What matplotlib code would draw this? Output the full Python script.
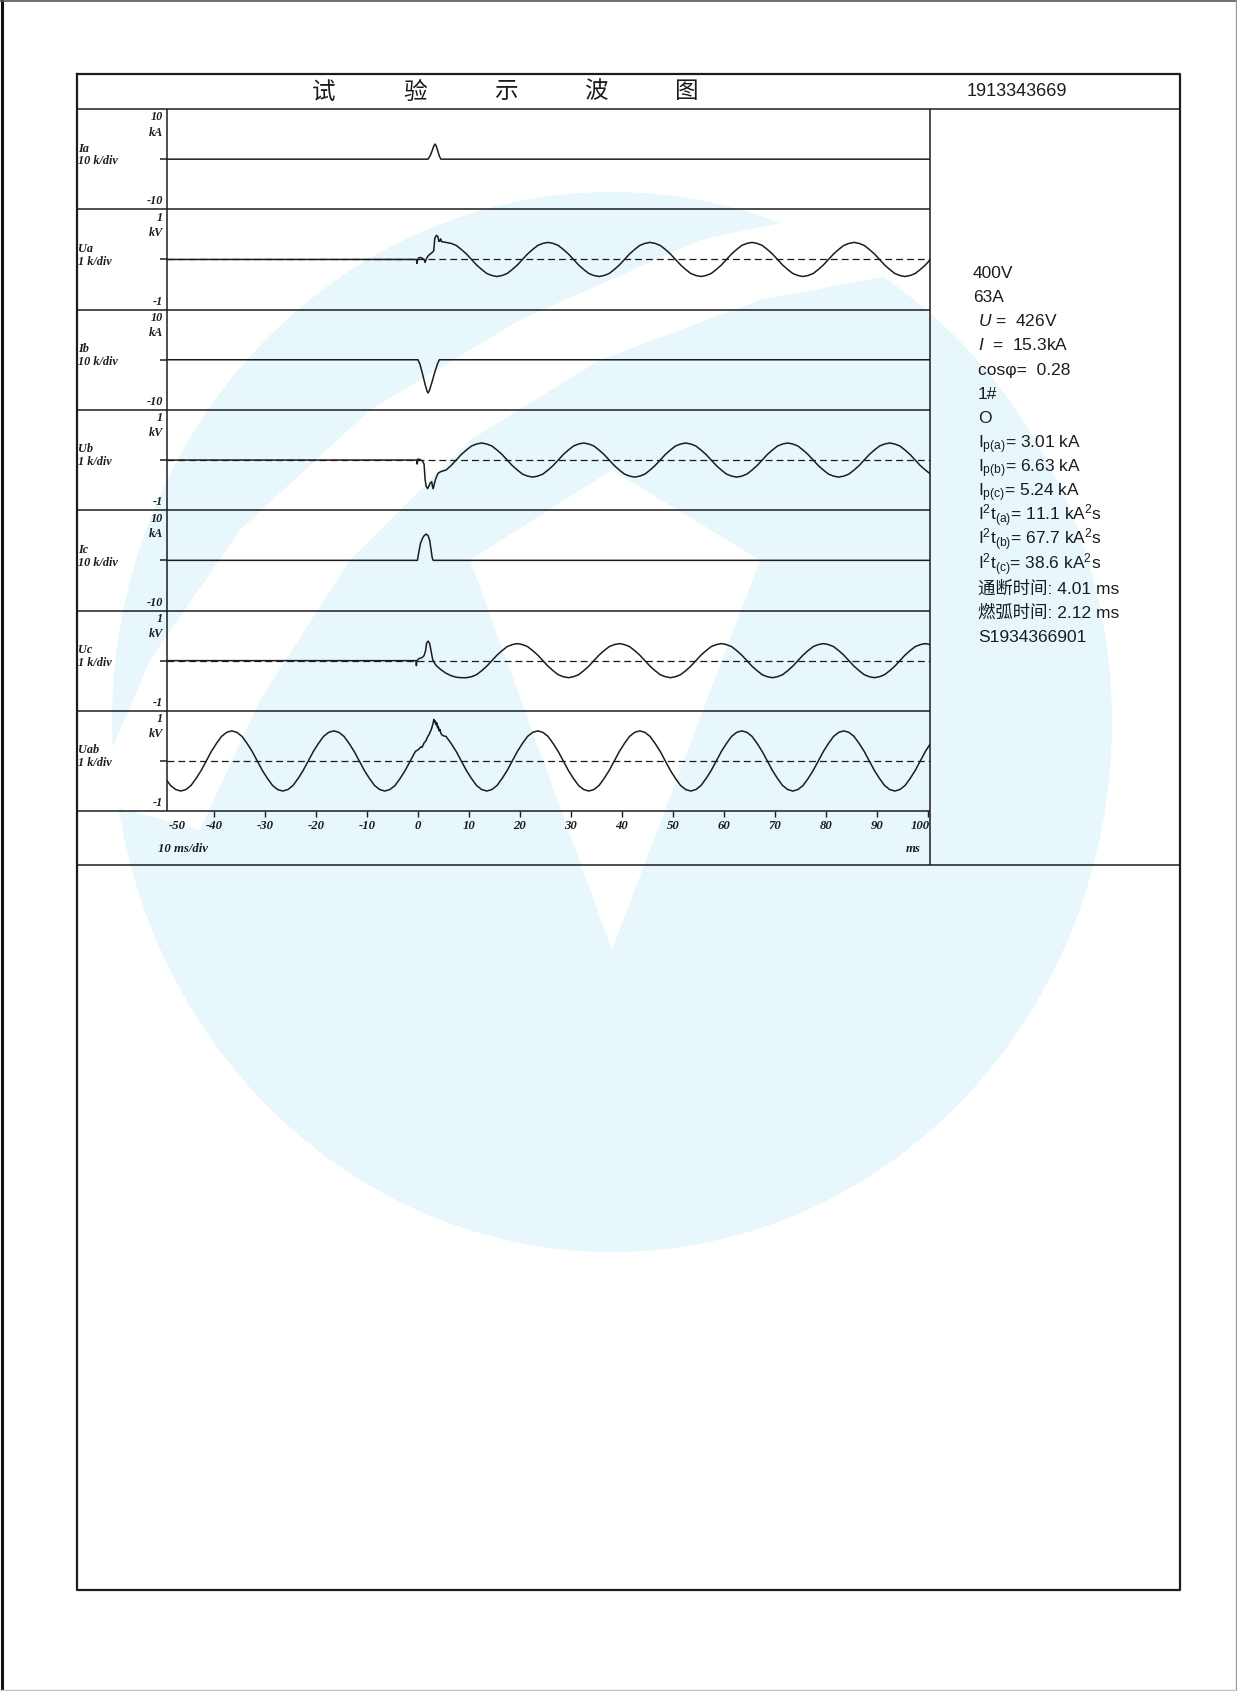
import matplotlib
matplotlib.use("Agg")
import matplotlib.pyplot as plt
from matplotlib.patches import Ellipse, Polygon
import numpy as np

plt.rcParams['mathtext.fontset'] = 'custom'
plt.rcParams['mathtext.rm'] = 'Liberation Sans'
plt.rcParams['mathtext.it'] = 'Liberation Sans:italic'
plt.rcParams['mathtext.bf'] = 'Liberation Sans:bold'

W, H = 1237, 1691
INK = '#1c1c1c'

# ---- recorded traces (time in ms) ----
# recorder samples, 1 ms apart, for the steady parts of the voltage traces
T_SAMPLE = 1.0

# Uab, kV
uab_pre_start = -49.5
uab_pre = [-.35, -.49, -.57, -.60, -.57, -.49, -.35, -.19, 0, .19, .35, .49, .57, .60, .57, .49, .35, .19, 0, -.19,
           -.35, -.49, -.57, -.60, -.57, -.49, -.35, -.19, 0, .19, .35, .49, .57, .60, .57, .49, .35, .19, 0, -.19,
           -.35, -.49, -.57, -.60, -.57, -.49, -.35, -.19, 0, .19]
uab_arc_t = [0.0, 0.3, 0.6, 0.8, 1.0, 1.2, 1.4, 1.6, 1.8, 2.0, 2.2, 2.4, 2.6, 2.8, 3.0, 3.1, 3.25,
             3.4, 3.55, 3.7, 3.85, 4.0, 4.15, 4.3, 4.5, 4.7, 5.0]
uab_arc_v = [0.22, 0.25, 0.28, 0.27, 0.31, 0.36, 0.38, 0.41, 0.46, 0.50, 0.53, 0.58, 0.62, 0.69, 0.76, 0.83, 0.77,
             0.80, 0.72, 0.76, 0.66, 0.69, 0.60, 0.63, 0.55, 0.52, 0.50]
uab_post_start = 5.5
uab_post = [.49, .35, .19, 0, -.19, -.35, -.49, -.57, -.60, -.57, -.49, -.35, -.19, 0, .19, .35, .49, .57, .60, .57,
            .49, .35, .19, 0, -.19, -.35, -.49, -.57, -.60, -.57, -.49, -.35, -.19, 0, .19, .35, .49, .57, .60, .57,
            .49, .35, .19, 0, -.19, -.35, -.49, -.57, -.60, -.57, -.49, -.35, -.19, 0, .19, .35, .49, .57, .60, .57,
            .49, .35, .19, 0, -.19, -.35, -.49, -.57, -.60, -.57, -.49, -.35, -.19, 0, .19, .35, .49, .57, .60, .57,
            .49, .35, .19, 0, -.19, -.35, -.49, -.57, -.60, -.57, -.49, -.35, -.19, 0, .19, .35, .49, .57]

# Ua, kV (zero while the contacts are closed)
ua_arc_t = [-50, -0.3, -0.2, -0.1, 0.1, 0.5, 0.9, 1.2, 1.4, 1.6, 1.9, 2.3, 2.8, 3.1, 3.3, 3.6, 3.9, 4.1,
            4.3, 4.45, 4.6, 4.9]
ua_arc_v = [0, 0, -0.08, -0.02, 0.03, 0.04, 0.02, 0.0, -0.06, 0.0, 0.06, 0.10, 0.14, 0.17, 0.42, 0.48, 0.46, 0.36,
            0.37, 0.41, 0.36, 0.35]
ua_post_start = 5.5
ua_post = [.34, .32, .28, .20, .11, 0, -.11, -.20, -.28, -.32, -.34, -.32, -.28, -.20, -.11, 0, .11, .20, .28, .32,
           .34, .32, .28, .20, .11, 0, -.11, -.20, -.28, -.32, -.34, -.32, -.28, -.20, -.11, 0, .11, .20, .28, .32,
           .34, .32, .28, .20, .11, 0, -.11, -.20, -.28, -.32, -.34, -.32, -.28, -.20, -.11, 0, .11, .20, .28, .32,
           .34, .32, .28, .20, .11, 0, -.11, -.20, -.28, -.32, -.34, -.32, -.28, -.20, -.11, 0, .11, .20, .28, .32,
           .34, .32, .28, .20, .11, 0, -.11, -.20, -.28, -.32, -.34, -.32, -.28, -.20, -.11, 0, .11, .20]

# Ub, kV
ub_arc_t = [-50, -0.25, -0.15, 0.0, 0.4, 0.9, 1.2, 1.4, 1.6, 1.9, 2.1, 2.4, 2.7, 2.85, 3.0, 3.2, 3.5, 3.9, 4.3, 4.8]
ub_arc_v = [0, 0, -0.08, 0.02, 0.01, -0.02, -0.08, -0.38, -0.52, -0.57, -0.53, -0.46, -0.43, -0.53, -0.57, -0.48,
            -0.37, -0.27, -0.24, -0.22]
ub_post_start = 5.5
ub_post = [-.20, -.11, 0, .11, .20, .28, .32, .34, .32, .28, .20, .11, 0, -.11, -.20, -.28, -.32, -.34, -.32, -.28,
           -.20, -.11, 0, .11, .20, .28, .32, .34, .32, .28, .20, .11, 0, -.11, -.20, -.28, -.32, -.34, -.32, -.28,
           -.20, -.11, 0, .11, .20, .28, .32, .34, .32, .28, .20, .11, 0, -.11, -.20, -.28, -.32, -.34, -.32, -.28,
           -.20, -.11, 0, .11, .20, .28, .32, .34, .32, .28, .20, .11, 0, -.11, -.20, -.28, -.32, -.34, -.32, -.28,
           -.20, -.11, 0, .11, .20, .28, .32, .34, .32, .28, .20, .11, 0, -.11, -.20, -.28, -.32, -.34]

# Uc, kV
uc_arc_t = [-50, -0.4, -0.3, -0.2, 0.2, 0.8, 1.2, 1.5, 1.7, 2.0, 2.3, 2.6, 2.9, 3.2, 3.6, 4.5, 5.5, 6.5, 7.5, 8.5]
uc_arc_v = [0, 0, -0.10, 0.0, 0.04, 0.06, 0.10, 0.20, 0.35, 0.39, 0.34, 0.18, 0.02, -0.04, -0.10, -0.18, -0.25,
            -0.30, -0.33, -0.34]
uc_post_start = 9.5
uc_post = [-.34, -.32, -.28, -.20, -.11, 0, .11, .20, .28, .32, .34, .32, .28, .20, .11, 0, -.11, -.20, -.28, -.32,
           -.34, -.32, -.28, -.20, -.11, 0, .11, .20, .28, .32, .34, .32, .28, .20, .11, 0, -.11, -.20, -.28, -.32,
           -.34, -.32, -.28, -.20, -.11, 0, .11, .20, .28, .32, .34, .32, .28, .20, .11, 0, -.11, -.20, -.28, -.32,
           -.34, -.32, -.28, -.20, -.11, 0, .11, .20, .28, .32, .34, .32, .28, .20, .11, 0, -.11, -.20, -.28, -.32,
           -.34, -.32, -.28, -.20, -.11, 0, .11, .20, .28, .32, .34, .32, .28, .20]

# phase currents, kA
ia_t = [-50, 2.0, 2.4, 2.8, 3.1, 3.35, 3.6, 3.9, 4.2, 4.5, 102.5]
ia_v = [0, 0, 0.7, 1.7, 2.6, 3.01, 2.6, 1.6, 0.6, 0, 0]
ib_t = [-50, 0.0, 0.4, 0.9, 1.4, 1.8, 2.0, 2.3, 2.8, 3.3, 3.8, 4.2, 102.5]
ib_v = [0, 0, -0.9, -2.8, -4.9, -6.3, -6.63, -6.0, -4.3, -2.5, -0.9, 0, 0]
ic_t = [-50, -0.1, 0.2, 0.5, 0.9, 1.2, 1.6, 2.0, 2.3, 2.55, 2.8, 3.0, 102.5]
ic_v = [0, 0, 1.8, 3.4, 4.4, 4.9, 5.24, 4.9, 4.0, 2.3, 0.5, 0, 0]

panel_names = ["Ia", "Ua", "Ib", "Ub", "Ic", "Uc", "Uab"]
panel_div = ["10 k/div", "1 k/div", "10 k/div", "1 k/div", "10 k/div", "1 k/div", "1 k/div"]
panel_top = ["10", "1", "10", "1", "10", "1", "1"]
panel_unit = ["kA", "kV", "kA", "kV", "kA", "kV", "kV"]
panel_bot = ["-10", "-1", "-10", "-1", "-10", "-1", "-1"]
panel_span = [10, 1, 10, 1, 10, 1, 1]
panel_dashed = [False, True, False, True, False, True, True]

time_ticks = [-50, -40, -30, -20, -10, 0, 10, 20, 30, 40, 50, 60, 70, 80, 90, 100]

title_chars = ["试", "验", "示", "波", "图"]
report_no = "1913343669"
info_lines = [
    "400V",
    "63A",
    r"$\mathit{U}$ =  426V",
    r"$\mathit{I}$  =  15.3kA",
    "cosφ=  0.28",
    "1#",
    "O",
    r"I$_{\mathrm{p(a)}}$= 3.01 kA",
    r"I$_{\mathrm{p(b)}}$= 6.63 kA",
    r"I$_{\mathrm{p(c)}}$= 5.24 kA",
    r"I$^{2}$t$_{\mathrm{(a)}}$= 11.1 kA$^{2}$s",
    r"I$^{2}$t$_{\mathrm{(b)}}$= 67.7 kA$^{2}$s",
    r"I$^{2}$t$_{\mathrm{(c)}}$= 38.6 kA$^{2}$s",
    "通断时间: 4.01 ms",
    "燃弧时间: 2.12 ms",
    "S1934366901",
]


def sampled(start, vals):
    t = start + T_SAMPLE * np.arange(len(vals))
    return t, np.asarray(vals, dtype=float)


def join(*parts):
    t = np.concatenate([np.asarray(p[0], dtype=float) for p in parts])
    v = np.concatenate([np.asarray(p[1], dtype=float) for p in parts])
    return t, v


traces = [
    (ia_t, ia_v),
    join((ua_arc_t, ua_arc_v), sampled(ua_post_start, ua_post)),
    (ib_t, ib_v),
    join((ub_arc_t, ub_arc_v), sampled(ub_post_start, ub_post)),
    (ic_t, ic_v),
    join((uc_arc_t, uc_arc_v), sampled(uc_post_start, uc_post)),
    join(sampled(uab_pre_start, uab_pre), (uab_arc_t, uab_arc_v), sampled(uab_post_start, uab_post)),
]

# ---- page layout in pixels ----
FRAME_L, FRAME_R, FRAME_T, FRAME_B = 77, 1180, 74, 1590
HEAD_Y = 109
PLOT_L, PLOT_R = 167, 930
PANEL_H = 100.3
AXIS_BOTTOM = HEAD_Y + 7 * PANEL_H
INFO_BOTTOM = 865
XMIN, XMAX = -49.2, 100.4

fig = plt.figure(figsize=(W / 100, H / 100), dpi=100)
fig.patch.set_facecolor('white')

bg = fig.add_axes([0, 0, 1, 1])
bg.set_xlim(0, W)
bg.set_ylim(H, 0)
bg.axis('off')

# faint logo printed behind the sheet
LOGO = '#e7f7fb'
bg.add_patch(Ellipse((612, 722), 1000, 1060, color=LOGO, lw=0, zorder=0))
bg.add_patch(Polygon([(90, 800), (150, 660), (240, 530), (370, 410), (520, 320), (700, 240), (980, 180),
                      (1080, 240), (760, 300), (600, 360), (470, 440), (350, 560), (260, 700), (200, 830)],
                     closed=True, color='white', lw=0, zorder=0.5))
bg.add_patch(Polygon([(470, 560), (612, 470), (760, 560), (612, 950)],
                     closed=True, color='white', lw=0, zorder=0.5))

line_kw = dict(color=INK, lw=1.1, solid_capstyle='butt', zorder=3)
# scan edges of the sheet
bg.plot([1.5, 1.5], [0, H], color='#111111', lw=2.2, zorder=3)
bg.plot([0, W], [0.8, 0.8], color='#555555', lw=1.2, zorder=3)
bg.plot([W - 1.5, W - 1.5], [0, H], color='#999999', lw=1.0, zorder=3)
bg.plot([0, W], [H - 1.5, H - 1.5], color='#b8c4cc', lw=1.0, zorder=3)

# form frame
bg.plot([FRAME_L, FRAME_R, FRAME_R, FRAME_L, FRAME_L], [FRAME_T, FRAME_T, FRAME_B, FRAME_B, FRAME_T],
        color=INK, lw=1.6, zorder=3)
bg.plot([FRAME_L, FRAME_R], [HEAD_Y, HEAD_Y], **line_kw)
bg.plot([FRAME_L, FRAME_R], [INFO_BOTTOM, INFO_BOTTOM], **line_kw)
bg.plot([PLOT_R, PLOT_R], [HEAD_Y, INFO_BOTTOM], **line_kw)
bg.plot([PLOT_L, PLOT_L], [HEAD_Y, AXIS_BOTTOM], **line_kw)
for i in range(1, 8):
    y = HEAD_Y + i * PANEL_H
    bg.plot([FRAME_L, PLOT_R], [y, y], **line_kw)

# header
for i, ch in enumerate(title_chars):
    bg.text(324 + 90.75 * i, 92, ch, fontsize=17, family='Noto Sans CJK SC', color=INK,
            ha='center', va='center')
bg.text(1017, 92, report_no, fontsize=13, family='Liberation Sans', color=INK,
        ha='center', va='center')

label_kw = dict(family='Liberation Serif', style='italic', weight='bold', fontsize=8.8, color=INK)
for i in range(7):
    top = HEAD_Y + i * PANEL_H
    zero = top + PANEL_H / 2
    bg.text(163, top + 8.5, panel_top[i], ha='right', va='center', **label_kw)
    bg.text(163, top + 23.5, panel_unit[i], ha='right', va='center', **label_kw)
    bg.text(78, top + 39.5, panel_names[i], ha='left', va='center', **label_kw)
    bg.text(78, top + 52.5, panel_div[i], ha='left', va='center', **label_kw)
    bg.text(163, top + 92.5, panel_bot[i], ha='right', va='center', **label_kw)
    bg.plot([160, PLOT_L], [zero, zero], **line_kw)

# ---- oscillogram panels ----
axes = []
for i in range(7):
    top = HEAD_Y + i * PANEL_H
    rect = [PLOT_L / W, 1 - (top + PANEL_H) / H, (PLOT_R - PLOT_L) / W, PANEL_H / H]
    ax = fig.add_axes(rect)
    ax.patch.set_alpha(0)
    for s in ax.spines.values():
        s.set_visible(False)
    ax.set_xlim(XMIN, XMAX)
    ax.set_ylim(-panel_span[i], panel_span[i])
    ax.set_yticks([])
    ax.set_xticks([])
    if panel_dashed[i]:
        ax.axhline(0, color=INK, lw=0.9, dashes=(5.5, 3.2), zorder=2)
    t, v = traces[i]
    ax.plot(t, v, color=INK, lw=1.1, zorder=3, clip_on=True)
    axes.append(ax)

ax = axes[-1]
ax.set_xticks([tk for tk in time_ticks if XMIN <= tk <= XMAX])
ax.tick_params(axis='x', direction='out', length=4.5, width=1.0, color=INK, labelbottom=False)

tick_kw = dict(family='Liberation Serif', style='italic', weight='bold', fontsize=9.2, color=INK)
trans = ax.get_xaxis_transform()
for tk in time_ticks:
    x = max(tk, XMIN + 2.0)
    x = min(x, XMAX - 2.0)
    ax.text(x, -0.15, str(tk), transform=trans, ha='center', va='center', **tick_kw)
bg.text(158, 849, "10 ms/div", ha='left', va='center', **tick_kw)
bg.text(921, 849, "ms", ha='right', va='center', **tick_kw)

# ---- test data column ----
for i, s in enumerate(info_lines):
    x = 973 if i < 2 else 978
    bg.text(x, 277.5 + 24.33 * i, s, fontsize=12.5, color=INK, ha='left', va='baseline',
            family=['Liberation Sans', 'Noto Sans CJK SC'])

fig.savefig("out.png", dpi=100, facecolor='white')
